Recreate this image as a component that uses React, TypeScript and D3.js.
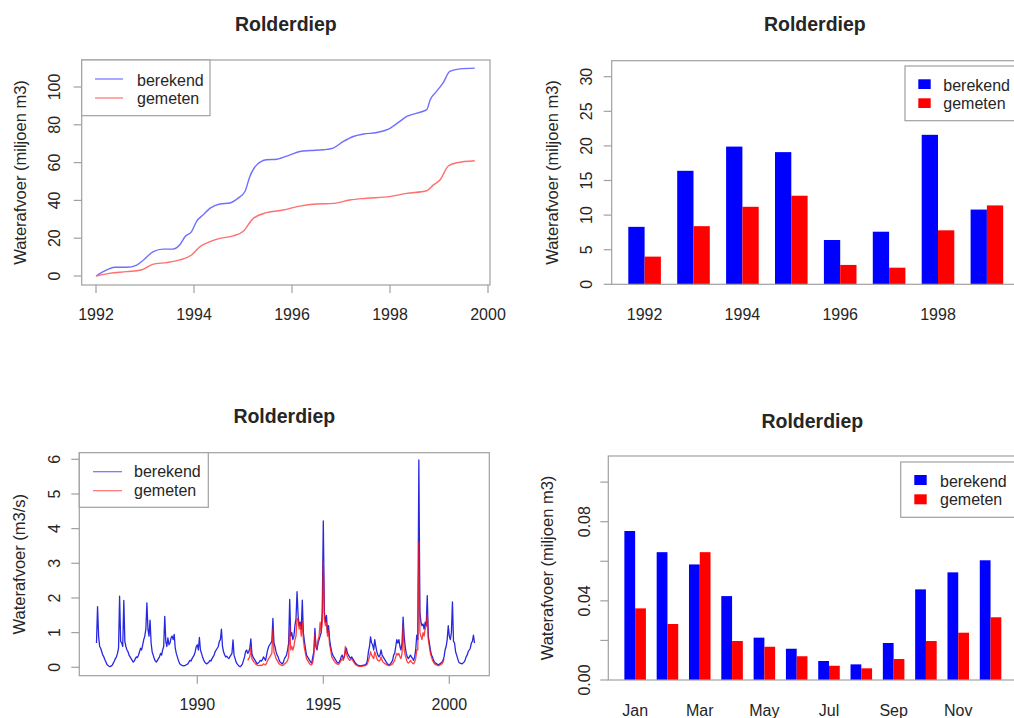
import React from 'react';
import * as d3 from 'd3';

const FONT = "'Liberation Sans', Arial, Helvetica, sans-serif";
const AXIS = '#a0a0a0';
const TXT = '#262626';
const TITLE = 'Rolderdiep';
const SERIES = ['berekend', 'gemeten'];

// ---- Panel 1: cumulative discharge (miljoen m3)
const cumBlueT = [1992.0, 1992.22, 1992.38, 1992.63, 1992.83, 1992.97, 1993.17, 1993.37, 1993.57, 1993.71, 1993.82, 1993.95, 1994.05, 1994.19, 1994.33, 1994.53, 1994.73, 1994.9, 1995.04, 1995.14, 1995.28, 1995.48, 1995.69, 1995.96, 1996.16, 1996.37, 1996.64, 1996.84, 1997.05, 1997.25, 1997.46, 1997.73, 1997.97, 1998.2, 1998.34, 1998.55, 1998.75, 1998.82, 1998.95, 1999.09, 1999.22, 1999.43, 1999.73];
const cumBlueV = [0, 3.2, 4.6, 4.6, 5.8, 8.5, 12.9, 14.2, 14.2, 16.5, 20.9, 23.5, 28.8, 32.4, 35.9, 38.1, 38.6, 41.2, 44.7, 52.7, 58.8, 61.5, 61.8, 64.1, 65.9, 66.4, 66.8, 67.7, 71.2, 73.8, 75.1, 75.9, 77.7, 81.8, 84.4, 86.2, 88.0, 93.3, 97.7, 102.5, 108.3, 109.6, 110.0];
const cumRedT = [1992.0, 1992.27, 1992.63, 1992.92, 1993.17, 1993.44, 1993.71, 1993.95, 1994.12, 1994.33, 1994.53, 1994.8, 1995.0, 1995.21, 1995.48, 1995.82, 1996.16, 1996.5, 1996.84, 1997.18, 1997.52, 1997.99, 1998.34, 1998.75, 1998.88, 1999.02, 1999.19, 1999.36, 1999.73];
const cumRedV = [0, 1.4, 2.3, 3.2, 6.3, 7.1, 8.5, 11.1, 15.5, 18.2, 19.9, 21.2, 23.5, 30.5, 33.5, 34.9, 37.0, 38.1, 38.4, 40.2, 41.1, 42.0, 43.7, 45.1, 48.1, 50.8, 58.2, 59.9, 61.0];
const cumXTicks = [1992, 1994, 1996, 1998, 2000];
const cumYTicks = [0, 20, 40, 60, 80, 100];

// ---- Panel 2: yearly totals
const years = [1992, 1993, 1994, 1995, 1996, 1997, 1998, 1999];
const yearBlue = [8.3, 16.4, 19.9, 19.1, 6.4, 7.6, 21.6, 10.8];
const yearRed = [4.0, 8.4, 11.2, 12.8, 2.8, 2.4, 7.8, 11.4];
const yearShown = [1992, 1994, 1996, 1998];
const yearYTicks = [0, 5, 10, 15, 20, 25, 30];

// ---- Panel 3: discharge (m3/s), two values per month
const flowBlueStart = 1986;
const flowRedStart = 1992;
const flowPerYear = 24;
const flowBlue = [
  0.7, 1.75, 0.9, 0.6, 0.55, 0.45, 0.35, 0.3, 0.22, 0.15, 0.08, 0.05, 0.03, 0.02, 0.04, 0.06, 0.12, 0.18, 0.25, 0.3, 0.4, 0.55, 2.05, 0.75,
  0.7, 0.6, 1.93, 0.75, 0.6, 0.5, 0.45, 0.35, 0.3, 0.25, 0.2, 0.15, 0.18, 0.25, 0.3, 0.28, 0.35, 0.45, 0.55, 0.5, 0.65, 0.8, 0.9, 1.1,
  1.86, 1.1, 0.9, 1.36, 0.7, 0.45, 0.35, 0.25, 0.18, 0.15, 0.2, 0.25, 0.3, 0.4, 0.35, 0.5, 0.6, 1.47, 0.75, 0.6, 0.85, 0.65, 0.7, 0.85,
  0.9, 0.8, 0.95, 0.55, 0.4, 0.3, 0.2, 0.12, 0.08, 0.06, 0.05, 0.04, 0.05, 0.06, 0.08, 0.1, 0.15, 0.2, 0.18, 0.25, 0.3, 0.35, 0.45, 0.6,
  0.65, 0.5, 0.86, 0.5, 0.4, 0.3, 0.22, 0.15, 0.12, 0.1, 0.12, 0.15, 0.2, 0.18, 0.25, 0.3, 0.35, 0.45, 0.5, 0.55, 0.6, 0.75, 0.8, 1.1,
  0.6, 0.45, 0.36, 0.3, 0.32, 0.28, 0.25, 0.3, 0.35, 0.4, 0.79, 0.35, 0.25, 0.15, 0.1, 0.06, 0.03, 0.02, 0.05, 0.1, 0.2, 0.3, 0.45, 0.5,
  0.4, 0.45, 0.55, 0.82, 0.4, 0.3, 0.25, 0.2, 0.15, 0.1, 0.12, 0.15, 0.2, 0.18, 0.22, 0.3, 0.25, 0.2, 0.35, 0.5, 0.6, 0.65, 0.7, 0.75,
  1.41, 0.7, 0.6, 0.45, 0.35, 0.3, 0.2, 0.15, 0.12, 0.1, 0.15, 0.25, 0.3, 0.35, 0.5, 0.7, 1.96, 0.9, 1.0, 0.8, 0.9, 1.2, 1.4, 2.18,
  1.5, 1.2, 1.3, 1.1, 1.94, 1.0, 0.75, 0.55, 0.35, 0.3, 0.25, 0.2, 0.15, 0.12, 0.3, 0.45, 1.12, 0.6, 0.5, 0.7, 0.8, 0.9, 1.0, 1.6,
  4.22, 1.6, 1.3, 1.5, 1.0, 1.2, 0.8, 0.6, 0.45, 0.35, 0.3, 0.25, 0.2, 0.15, 0.12, 0.15, 0.2, 0.3, 0.35, 0.26, 0.3, 0.45, 0.55, 0.4,
  0.35, 0.3, 0.26, 0.3, 0.25, 0.2, 0.15, 0.11, 0.08, 0.06, 0.05, 0.05, 0.04, 0.05, 0.06, 0.06, 0.08, 0.1, 0.2, 0.45, 0.6, 0.88, 0.7, 0.65,
  0.5, 0.8, 0.6, 0.45, 0.35, 0.3, 0.35, 0.5, 0.35, 0.3, 0.25, 0.2, 0.15, 0.1, 0.08, 0.07, 0.1, 0.15, 0.2, 0.35, 0.4, 0.6, 0.8, 0.7,
  0.8, 0.6, 0.5, 0.7, 1.45, 0.9, 0.6, 0.4, 0.3, 0.25, 0.3, 0.35, 0.3, 0.25, 0.2, 0.3, 0.5, 0.93, 0.8, 5.98, 1.6, 1.3, 1.2, 1.25,
  1.1, 1.3, 1.2, 2.07, 0.9, 0.7, 0.5, 0.35, 0.3, 0.2, 0.15, 0.12, 0.1, 0.08, 0.08, 0.1, 0.12, 0.15, 0.2, 0.3, 0.5, 0.6, 0.8, 1.2,
  0.9, 0.8, 1.0, 1.89, 0.75, 0.7, 0.45, 0.35, 0.25, 0.15, 0.12, 0.11, 0.1, 0.12, 0.15, 0.2, 0.3, 0.35, 0.45, 0.5, 0.55, 0.7, 0.75, 0.93,
  0.7,
];
const flowRed = [
  0.2, 0.25, 0.3, 0.55, 0.25, 0.2, 0.15, 0.12, 0.08, 0.06, 0.05, 0.05, 0.06, 0.05, 0.06, 0.1, 0.08, 0.07, 0.12, 0.2, 0.25, 0.3, 0.35, 0.4,
  1.1, 0.45, 0.35, 0.25, 0.2, 0.15, 0.1, 0.08, 0.06, 0.05, 0.06, 0.1, 0.12, 0.15, 0.2, 0.3, 1.2, 0.5, 0.6, 0.5, 0.6, 0.8, 0.9, 1.4,
  1.4, 1.1, 1.25, 0.9, 1.3, 0.8, 0.55, 0.4, 0.25, 0.2, 0.15, 0.1, 0.08, 0.07, 0.15, 0.35, 0.95, 0.6, 0.55, 0.8, 0.9, 1.3, 1.0, 1.3,
  3.05, 1.4, 1.2, 1.3, 0.9, 1.07, 0.65, 0.5, 0.3, 0.25, 0.2, 0.15, 0.12, 0.1, 0.08, 0.1, 0.15, 0.2, 0.25, 0.2, 0.3, 0.6, 0.4, 0.3,
  0.25, 0.2, 0.22, 0.25, 0.2, 0.15, 0.1, 0.07, 0.05, 0.04, 0.03, 0.03, 0.03, 0.03, 0.04, 0.04, 0.05, 0.06, 0.1, 0.2, 0.3, 0.45, 0.35, 0.3,
  0.25, 0.45, 0.35, 0.25, 0.2, 0.18, 0.2, 0.3, 0.2, 0.15, 0.12, 0.1, 0.08, 0.06, 0.05, 0.05, 0.06, 0.08, 0.1, 0.15, 0.2, 0.3, 0.4, 0.35,
  0.4, 0.3, 0.25, 0.4, 1.2, 0.5, 0.35, 0.25, 0.15, 0.12, 0.15, 0.2, 0.15, 0.12, 0.1, 0.15, 0.25, 0.5, 0.5, 3.6, 1.0, 0.9, 0.8, 1.0,
  0.9, 1.1, 1.2, 1.55, 0.8, 0.6, 0.4, 0.3, 0.2, 0.15, 0.1, 0.08, 0.06, 0.05, 0.05, 0.06, 0.08, 0.1, 0.15, 0.25,
];
const flowXTicks = [1990, 1995, 2000];
const flowYTicks = [0, 1, 2, 3, 4, 5, 6];

// ---- Panel 4: monthly means (miljoen m3)
const months = ['Jan', 'Feb', 'Mar', 'Apr', 'May', 'Jun', 'Jul', 'Aug', 'Sep', 'Oct', 'Nov', 'Dec'];
const monthBlue = [0.0753, 0.0646, 0.0584, 0.0424, 0.0214, 0.0158, 0.0096, 0.0079, 0.0187, 0.0458, 0.0544, 0.0605];
const monthRed = [0.0362, 0.0283, 0.0646, 0.0197, 0.0168, 0.012, 0.0072, 0.0059, 0.0106, 0.0197, 0.0239, 0.0317];
const monthShown = ['Jan', 'Mar', 'May', 'Jul', 'Sep', 'Nov'];
const monthYTicks = [0, 0.02, 0.04, 0.06, 0.08, 0.1];
const monthYLabels = ['0.00', '', '0.04', '', '0.08', ''];

type Box = { x1: number; y1: number; x2: number; y2: number };

function Frame({ b }: { b: Box }) {
  return <rect x={b.x1} y={b.y1} width={b.x2 - b.x1} height={b.y2 - b.y1} fill="none" stroke={AXIS} strokeWidth={1.2} />;
}

function Title({ x, y }: { x: number; y: number }) {
  return (
    <text x={x} y={y} textAnchor="middle" fontFamily={FONT} fontWeight="bold" fontSize={19.5} fill={TXT}>
      {TITLE}
    </text>
  );
}

function YTitle({ x, y, label }: { x: number; y: number; label: string }) {
  return (
    <text transform={`translate(${x},${y}) rotate(-90)`} textAnchor="middle" fontFamily={FONT} fontSize={16.5} fill={TXT}>
      {label}
    </text>
  );
}

function YAxis({ b, scale, ticks, labels, labelX }: { b: Box; scale: (v: number) => number; ticks: number[]; labels: string[]; labelX: number }) {
  return (
    <g>
      {ticks.map((t, i) => (
        <g key={i}>
          <line x1={b.x1 - 8} x2={b.x1} y1={scale(t)} y2={scale(t)} stroke={AXIS} strokeWidth={1.2} />
          {labels[i] ? (
            <text transform={`translate(${labelX},${scale(t)}) rotate(-90)`} textAnchor="middle" fontFamily={FONT} fontSize={16} fill={TXT}>
              {labels[i]}
            </text>
          ) : null}
        </g>
      ))}
    </g>
  );
}

function LineLegend({ b, lx1, lx2, tx, rows, baselines, colors }: { b: Box; lx1: number; lx2: number; tx: number; rows: number[]; baselines: number[]; colors: string[] }) {
  return (
    <g>
      <rect x={b.x1} y={b.y1} width={b.x2 - b.x1} height={b.y2 - b.y1} fill="white" stroke={AXIS} strokeWidth={1.2} />
      {SERIES.map((s, i) => (
        <g key={s}>
          <line x1={lx1} x2={lx2} y1={rows[i]} y2={rows[i]} stroke={colors[i]} strokeWidth={1.2} />
          <text x={tx} y={baselines[i]} fontFamily={FONT} fontSize={16} fill={TXT}>{s}</text>
        </g>
      ))}
    </g>
  );
}

function BoxLegend({ b, sx, sw, rowsTop, sh, tx, baselines }: { b: Box; sx: number; sw: number; rowsTop: number[]; sh: number; tx: number; baselines: number[] }) {
  const cols = ['#0000ff', '#ff0000'];
  return (
    <g>
      <rect x={b.x1} y={b.y1} width={b.x2 - b.x1} height={b.y2 - b.y1} fill="white" stroke={AXIS} strokeWidth={1.2} />
      {SERIES.map((s, i) => (
        <g key={s}>
          <rect x={sx} y={rowsTop[i]} width={sw} height={sh} fill={cols[i]} />
          <text x={tx} y={baselines[i]} fontFamily={FONT} fontSize={16} fill={TXT}>{s}</text>
        </g>
      ))}
    </g>
  );
}

function CumPanel() {
  const b: Box = { x1: 81.7, y1: 60, x2: 490, y2: 285 };
  const x = d3.scaleLinear().domain([1992, 2000]).range([96, 488]);
  const y = d3.scaleLinear().domain([0, 100]).range([276, 87]);
  const line = d3.line<[number, number]>().x((d) => x(d[0])).y((d) => y(d[1])).curve(d3.curveMonotoneX);
  const blue = cumBlueT.map((t, i) => [t, cumBlueV[i]] as [number, number]);
  const red = cumRedT.map((t, i) => [t, cumRedV[i]] as [number, number]);
  return (
    <g>
      <Title x={(b.x1 + b.x2) / 2} y={31} />
      <path d={line(blue) || ''} fill="none" stroke="#6f6fff" strokeWidth={1.4} />
      <path d={line(red) || ''} fill="none" stroke="#ff6f6f" strokeWidth={1.4} />
      <Frame b={b} />
      {cumXTicks.map((t) => (
        <g key={t}>
          <line x1={x(t)} x2={x(t)} y1={b.y2} y2={b.y2 + 8} stroke={AXIS} strokeWidth={1.2} />
          <text x={x(t)} y={320} textAnchor="middle" fontFamily={FONT} fontSize={16} fill={TXT}>{t}</text>
        </g>
      ))}
      <YAxis b={b} scale={y} ticks={cumYTicks} labels={cumYTicks.map(String)} labelX={59.5} />
      <YTitle x={25.7} y={(b.y1 + b.y2) / 2} label="Waterafvoer (miljoen m3)" />
      <LineLegend b={{ x1: 81.7, y1: 60, x2: 210, y2: 115.7 }} lx1={95} lx2={123} tx={137} rows={[79, 98]} baselines={[85.7, 104]} colors={['#6f6fff', '#ff6f6f']} />
    </g>
  );
}

function YearPanel() {
  const b: Box = { x1: 611.7, y1: 60.7, x2: 1018, y2: 284.3 };
  const u = d3.scaleLinear().domain([0, 1]).range([612, 628.3]);
  const y = d3.scaleLinear().domain([0, 30]).range([284.3, 76.7]);
  const w = u(1) - u(0);
  return (
    <g>
      <Title x={(b.x1 + b.x2) / 2} y={31} />
      {years.map((yr, i) => (
        <g key={yr}>
          <rect x={u(3 * i + 1)} y={y(yearBlue[i])} width={w} height={y(0) - y(yearBlue[i])} fill="#0000ff" />
          <rect x={u(3 * i + 2)} y={y(yearRed[i])} width={w} height={y(0) - y(yearRed[i])} fill="#ff0000" />
          {yearShown.includes(yr) ? (
            <text x={u(3 * i + 2)} y={320} textAnchor="middle" fontFamily={FONT} fontSize={16} fill={TXT}>{yr}</text>
          ) : null}
        </g>
      ))}
      <Frame b={b} />
      <YAxis b={b} scale={y} ticks={yearYTicks} labels={yearYTicks.map(String)} labelX={591.7} />
      <YTitle x={558} y={(b.y1 + b.y2) / 2} label="Waterafvoer (miljoen m3)" />
      <BoxLegend b={{ x1: 905, y1: 66, x2: 1030, y2: 120.7 }} sx={918.3} sw={12.4} rowsTop={[79.3, 98.3]} sh={9.7} tx={943.3} baselines={[90.7, 109]} />
    </g>
  );
}

function FlowPanel() {
  const b: Box = { x1: 79.3, y1: 452.7, x2: 489.3, y2: 675.7 };
  const x = d3.scaleLinear().domain([1990, 2000]).range([197.3, 449.3]);
  const y = d3.scaleLinear().domain([0, 6]).range([667.3, 459.3]);
  const lineB = d3.line<number>().x((_, i) => x(flowBlueStart + i / flowPerYear)).y((d) => y(d));
  const lineR = d3.line<number>().x((_, i) => x(flowRedStart + i / flowPerYear)).y((d) => y(d));
  return (
    <g>
      <Title x={(b.x1 + b.x2) / 2} y={423} />
      <path d={lineB(flowBlue) || ''} fill="none" stroke="#2828e0" strokeWidth={1.3} strokeLinejoin="round" />
      <path d={lineR(flowRed) || ''} fill="none" stroke="#ff1010" strokeOpacity={0.8} strokeWidth={1.3} strokeLinejoin="round" />
      <Frame b={b} />
      {flowXTicks.map((t) => (
        <g key={t}>
          <line x1={x(t)} x2={x(t)} y1={b.y2} y2={b.y2 + 8} stroke={AXIS} strokeWidth={1.2} />
          <text x={x(t)} y={710} textAnchor="middle" fontFamily={FONT} fontSize={16} fill={TXT}>{t}</text>
        </g>
      ))}
      <YAxis b={b} scale={y} ticks={flowYTicks} labels={flowYTicks.map(String)} labelX={60} />
      <YTitle x={24.5} y={(b.y1 + b.y2) / 2} label="Waterafvoer (m3/s)" />
      <LineLegend b={{ x1: 79.3, y1: 452.7, x2: 208.3, y2: 507.3 }} lx1={93} lx2={122} tx={134} rows={[471.7, 490.7]} baselines={[477.3, 495.7]} colors={['#6f6fff', '#ff6f6f']} />
    </g>
  );
}

function MonthPanel() {
  const b: Box = { x1: 608.3, y1: 456, x2: 1016.4, y2: 680 };
  const u = d3.scaleLinear().domain([0, 1]).range([613.6, 624.37]);
  const y = d3.scaleLinear().domain([0, 0.08]).range([680, 521.7]);
  const w = u(1) - u(0);
  return (
    <g>
      <Title x={(b.x1 + b.x2) / 2} y={428} />
      {months.map((m, i) => (
        <g key={m}>
          <rect x={u(3 * i + 1)} y={y(monthBlue[i])} width={w} height={y(0) - y(monthBlue[i])} fill="#0000ff" />
          <rect x={u(3 * i + 2)} y={y(monthRed[i])} width={w} height={y(0) - y(monthRed[i])} fill="#ff0000" />
          {monthShown.includes(m) ? (
            <text x={u(3 * i + 2)} y={716} textAnchor="middle" fontFamily={FONT} fontSize={16} fill={TXT}>{m}</text>
          ) : null}
        </g>
      ))}
      <Frame b={b} />
      <YAxis b={b} scale={y} ticks={monthYTicks} labels={monthYLabels} labelX={590} />
      <YTitle x={553} y={(b.y1 + b.y2) / 2} label="Waterafvoer (miljoen m3)" />
      <BoxLegend b={{ x1: 900.7, y1: 462, x2: 1030, y2: 517.3 }} sx={914.3} sw={12.4} rowsTop={[475, 494.3]} sh={10} tx={940} baselines={[486.7, 505]} />
    </g>
  );
}

export default function App() {
  return (
    <svg width={1014} height={718} style={{ position: 'absolute', left: 0, top: 0, background: 'white' }}>
      <rect x={0} y={0} width={1014} height={718} fill="white" />
      <CumPanel />
      <YearPanel />
      <FlowPanel />
      <MonthPanel />
    </svg>
  );
}
